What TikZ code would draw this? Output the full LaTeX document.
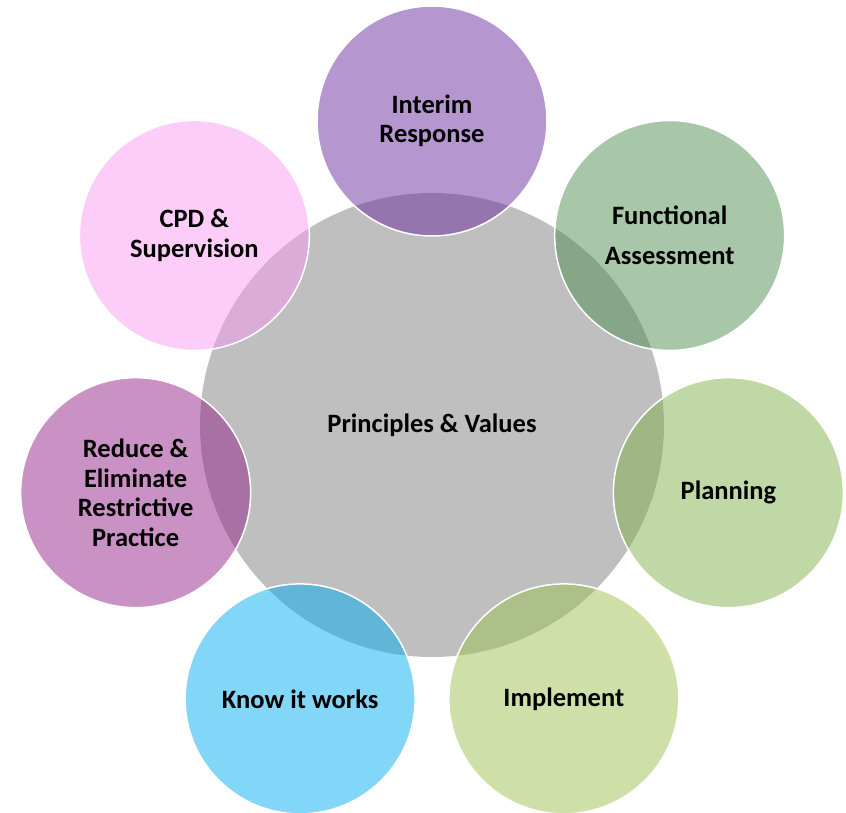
\documentclass[tikz,border=0pt]{standalone}
\usepackage{fontspec}
\setmainfont{Carlito}
\usepackage{xcolor}
\usepackage{tikz}
\usetikzlibrary{calc}

\definecolor{hubgray}{RGB}{191,191,191}
\definecolor{interimcol}{RGB}{107,45,159}
\definecolor{functcol}{RGB}{81,141,81}
\definecolor{plancol}{RGB}{129,177,75}
\definecolor{implcol}{RGB}{157,193,81}
\definecolor{knowcol}{RGB}{5,173,239}
\definecolor{reducecol}{RGB}{149,37,137}
\definecolor{cpdcol}{RGB}{249,155,241}

\begin{document}
\begin{tikzpicture}[x=1pt, y=1pt,
        hub/.style = { circle, fill = hubgray, minimum size = 464pt, inner sep=0pt, outer sep=0pt, font = \bfseries\fontsize{26.5}{29.5}\selectfont },
        petal/.style = { circle, draw = white, line width = 1.5pt, fill opacity = 0.5, text opacity = 1, minimum size = 230pt, inner sep=0pt, outer sep=0pt, align = center, text = black, font = \bfseries\fontsize{26.5}{29.5}\selectfont },
    ]
        \useasboundingbox (0,0) rectangle (846,812);
        \node[hub] (pv) at (432,387) {Principles \& Values};

        \node[petal, fill = interimcol] (interim) at ($(pv)+(90:304)$) {Interim\\Response};
        \node[petal, fill = functcol] (funct) at ($(pv)+(38.57:304)$) {Functional\\[10pt]Assessment};
        \node[petal, fill = plancol] (plan) at ($(pv)+(-12.86:304)$) {Planning};
        \node[petal, fill = implcol] (impl) at ($(pv)+(-64.29:304)$) {Implement};
        \node[petal, fill = knowcol] (know) at ($(pv)+(-115.71:304)$) {Know it works};
        \node[petal, fill = reducecol] (reduce) at ($(pv)+(-167.14:304)$) {Reduce \&\\Eliminate\\Restrictive\\Practice};
        \node[petal, fill = cpdcol] (cpd) at ($(pv)+(141.43:304)$) {CPD \&\\Supervision};
\end{tikzpicture}
\end{document}
